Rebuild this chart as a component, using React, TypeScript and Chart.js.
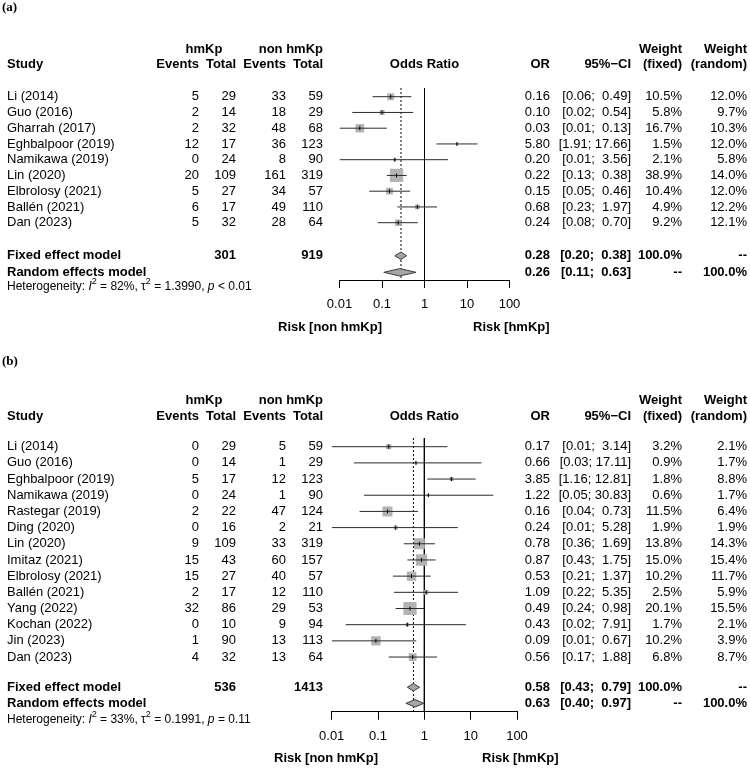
import { useEffect, useRef } from "react";
import { Chart, registerables } from "chart.js";

Chart.register(...registerables);

const FONT = '"Liberation Sans", Arial, Helvetica, sans-serif';
const SERIF = '"Liberation Serif", "Times New Roman", serif';

// ---------- Panel (a) data ----------
const studiesA = ["Li (2014)", "Guo (2016)", "Gharrah (2017)", "Eghbalpoor (2019)", "Namikawa (2019)", "Lin (2020)", "Elbrolosy (2021)", "Ballén (2021)", "Dan (2023)"];
const hmEventsA = [5, 2, 2, 12, 0, 20, 5, 6, 5];
const hmTotalA = [29, 14, 32, 17, 24, 109, 27, 17, 32];
const nonEventsA = [33, 18, 48, 36, 8, 161, 34, 49, 28];
const nonTotalA = [59, 29, 68, 123, 90, 319, 57, 110, 64];
const orA = [0.16, 0.10, 0.03, 5.80, 0.20, 0.22, 0.15, 0.68, 0.24];
const lowerA = [0.06, 0.02, 0.01, 1.91, 0.01, 0.13, 0.05, 0.23, 0.08];
const upperA = [0.49, 0.54, 0.13, 17.66, 3.56, 0.38, 0.46, 1.97, 0.70];
const wFixedA = [10.5, 5.8, 16.7, 1.5, 2.1, 38.9, 10.4, 4.9, 9.2];
const wRandomA = [12.0, 9.7, 10.3, 12.0, 5.8, 14.0, 12.0, 12.2, 12.1];
const totalsA = [301, 919];
const fixedA = [0.28, 0.20, 0.38];
const randomA = [0.26, 0.11, 0.63];
const hetA = ["82%", "1.3990", "< 0.01"];

// ---------- Panel (b) data ----------
const studiesB = ["Li (2014)", "Guo (2016)", "Eghbalpoor (2019)", "Namikawa (2019)", "Rastegar (2019)", "Ding (2020)", "Lin (2020)", "Imitaz (2021)", "Elbrolosy (2021)", "Ballén (2021)", "Yang (2022)", "Kochan (2022)", "Jin (2023)", "Dan (2023)"];
const hmEventsB = [0, 0, 5, 0, 2, 0, 9, 15, 15, 2, 32, 0, 1, 4];
const hmTotalB = [29, 14, 17, 24, 22, 16, 109, 43, 27, 17, 86, 10, 90, 32];
const nonEventsB = [5, 1, 12, 1, 47, 2, 33, 60, 40, 12, 29, 9, 13, 13];
const nonTotalB = [59, 29, 123, 90, 124, 21, 319, 157, 57, 110, 53, 94, 113, 64];
const orB = [0.17, 0.66, 3.85, 1.22, 0.16, 0.24, 0.78, 0.87, 0.53, 1.09, 0.49, 0.43, 0.09, 0.56];
const lowerB = [0.01, 0.03, 1.16, 0.05, 0.04, 0.01, 0.36, 0.43, 0.21, 0.22, 0.24, 0.02, 0.01, 0.17];
const upperB = [3.14, 17.11, 12.81, 30.83, 0.73, 5.28, 1.69, 1.75, 1.37, 5.35, 0.98, 7.91, 0.67, 1.88];
const wFixedB = [3.2, 0.9, 1.8, 0.6, 11.5, 1.9, 13.8, 15.0, 10.2, 2.5, 20.1, 1.7, 10.2, 6.8];
const wRandomB = [2.1, 1.7, 8.8, 1.7, 6.4, 1.9, 14.3, 15.4, 11.7, 5.9, 15.5, 2.1, 3.9, 8.7];
const totalsB = [536, 1413];
const fixedB = [0.58, 0.43, 0.79];
const randomB = [0.63, 0.40, 0.97];
const hetB = ["33%", "0.1991", "= 0.11"];

// ---------- axis ----------
const tickValues = [0.01, 0.1, 1, 10, 100];
const tickLabels = ["0.01", "0.1", "1", "10", "100"];

type PanelData = {
  tag: string;
  studies: string[];
  hmEvents: number[];
  hmTotal: number[];
  nonEvents: number[];
  nonTotal: number[];
  or: number[];
  lower: number[];
  upper: number[];
  wFixed: number[];
  wRandom: number[];
  totals: number[];
  fixed: number[];
  random: number[];
  het: string[];
};

type Layout = {
  canvasTop: number;
  height: number;
  xLeft: number;
  xRight: number;
  chartTop: number;
  axisY: number;
  row0: number;
  step: number;
  fixedRow: number;
  randomRow: number;
  hetRow: number;
  tagY: number;
  head1: number;
  head2: number;
  riskY: number;
  rightLabelX: number;
};

const panelA: PanelData = {
  tag: "(a)", studies: studiesA, hmEvents: hmEventsA, hmTotal: hmTotalA, nonEvents: nonEventsA, nonTotal: nonTotalA,
  or: orA, lower: lowerA, upper: upperA, wFixed: wFixedA, wRandom: wRandomA, totals: totalsA, fixed: fixedA, random: randomA, het: hetA,
};
const panelB: PanelData = {
  tag: "(b)", studies: studiesB, hmEvents: hmEventsB, hmTotal: hmTotalB, nonEvents: nonEventsB, nonTotal: nonTotalB,
  or: orB, lower: lowerB, upper: upperB, wFixed: wFixedB, wRandom: wRandomB, totals: totalsB, fixed: fixedB, random: randomB, het: hetB,
};

const layoutA: Layout = {
  canvasTop: 0, height: 345, xLeft: 339.5, xRight: 509.5, chartTop: 88, axisY: 280, row0: 96.7, step: 15.75,
  fixedRow: 10.1, randomRow: 11.15, hetRow: 12.08, tagY: 8, head1: 49.5, head2: 64.5, riskY: 327, rightLabelX: 473,
};
const layoutB: Layout = {
  canvasTop: 345, height: 425, xLeft: 331.7, xRight: 517, chartTop: 93, axisY: 366.7, row0: 101.7, step: 16.18,
  fixedRow: 14.87, randomRow: 15.86, hetRow: 16.89, tagY: 17, head1: 55, head2: 71.7, riskY: 413.3, rightLabelX: 482,
};

// column anchors (right-aligned unless noted)
const COL = { study: 7, ev1: 199, tot1: 236, hmCenter: 204, ev2: 286, tot2: 323, or: 550, ci: 631, wf: 682, wr: 747 };

const W = 750;
const MAX_BOX = 13.2;
const DIAMOND_HALF = 3.7;

function fmt2(v: number) {
  return v.toFixed(2);
}
function ciText(lo: number, hi: number) {
  const h = fmt2(hi);
  return "[" + fmt2(lo) + ";" + (h.length < 5 ? "  " : " ") + h + "]";
}
function pct(v: number) {
  return v.toFixed(1) + "%";
}

function makeConfig(P: PanelData, L: Layout): any {
  const yMin = (L.chartTop - L.row0) / L.step;
  const yMax = (L.axisY - L.row0) / L.step;
  const xAxisH = 40;
  const maxW = Math.max(...P.wFixed);
  const sides = P.wFixed.map((w) => MAX_BOX * Math.sqrt(w / maxW));
  const dh = DIAMOND_HALF / L.step;

  const datasets: any[] = [];
  // reference line at OR = 1
  datasets.push({
    type: "line", data: [{ x: 1, y: yMin }, { x: 1, y: yMax }], borderColor: "#000", borderWidth: 1,
    pointRadius: 0, order: 6, fill: false,
  });
  // fixed effect dotted line
  datasets.push({
    type: "line", data: [{ x: P.fixed[0], y: yMin }, { x: P.fixed[0], y: yMax }], borderColor: "#000", borderWidth: 1,
    borderDash: [2, 2], pointRadius: 0, order: 6, fill: false,
  });
  // squares
  datasets.push({
    type: "scatter", data: P.or.map((v, i) => ({ x: v, y: i })), pointStyle: "rect",
    pointRadius: sides.map((s) => s / Math.SQRT2), backgroundColor: "#b3b3b3", borderWidth: 0, order: 3,
  });
  // CI lines
  P.or.forEach((_, i) => {
    datasets.push({
      type: "line", data: [{ x: P.lower[i], y: i }, { x: P.upper[i], y: i }], borderColor: "#2a2a2a",
      borderWidth: 1, pointRadius: 0, order: 1, fill: false,
    });
  });
  // estimate ticks
  datasets.push({
    type: "scatter", data: P.or.map((v, i) => ({ x: v, y: i })), pointStyle: "line", rotation: 90,
    pointRadius: 2, borderColor: "#000", borderWidth: 1, order: 0,
  });
  // diamonds
  const dia = (s: number[], r: number) => [
    { x: s[1], y: r }, { x: s[0], y: r - dh }, { x: s[2], y: r }, { x: s[0], y: r + dh }, { x: s[1], y: r },
  ];
  datasets.push({
    type: "line", data: dia(P.fixed, L.fixedRow), fill: "shape", backgroundColor: "#a6a6a6", borderColor: "#3a3a3a",
    borderWidth: 1, pointRadius: 0, order: 2, tension: 0,
  });
  datasets.push({
    type: "line", data: dia(P.random, L.randomRow), fill: "shape", backgroundColor: "#a6a6a6", borderColor: "#3a3a3a",
    borderWidth: 1, pointRadius: 0, order: 2, tension: 0,
  });

  const textPlugin = {
    id: "forestText",
    afterDraw(chart: any) {
      const ctx = chart.ctx as CanvasRenderingContext2D;
      const ys = chart.scales.y;
      const xs = chart.scales.x;
      const ry = (r: number) => ys.getPixelForValue(r);
      ctx.save();
      ctx.fillStyle = "#000";
      ctx.textBaseline = "middle";
      const put = (s: string, px: number, py: number, align: CanvasTextAlign, bold = false, size = 13) => {
        ctx.font = `${bold ? "bold " : ""}${size}px ${FONT}`;
        ctx.textAlign = align;
        ctx.fillText(s, px, py);
      };
      // tag
      ctx.font = `bold 13px ${SERIF}`;
      ctx.textAlign = "left";
      ctx.fillText(P.tag, 2, L.tagY);
      // headers
      put("hmKp", COL.hmCenter, L.head1, "center", true);
      put("non hmKp", COL.tot2, L.head1, "right", true);
      put("Weight", COL.wf, L.head1, "right", true);
      put("Weight", COL.wr, L.head1, "right", true);
      put("Study", COL.study, L.head2, "left", true);
      put("Events", COL.ev1, L.head2, "right", true);
      put("Total", COL.tot1, L.head2, "right", true);
      put("Events", COL.ev2, L.head2, "right", true);
      put("Total", COL.tot2, L.head2, "right", true);
      put("Odds Ratio", xs.getPixelForValue(1), L.head2, "center", true);
      put("OR", COL.or, L.head2, "right", true);
      put("95%\u2212CI", COL.ci, L.head2, "right", true);
      put("(fixed)", COL.wf, L.head2, "right", true);
      put("(random)", COL.wr, L.head2, "right", true);
      // study rows
      P.studies.forEach((s, i) => {
        const y = ry(i);
        put(s, COL.study, y, "left");
        put(String(P.hmEvents[i]), COL.ev1, y, "right");
        put(String(P.hmTotal[i]), COL.tot1, y, "right");
        put(String(P.nonEvents[i]), COL.ev2, y, "right");
        put(String(P.nonTotal[i]), COL.tot2, y, "right");
        put(fmt2(P.or[i]), COL.or, y, "right");
        put(ciText(P.lower[i], P.upper[i]), COL.ci, y, "right");
        put(pct(P.wFixed[i]), COL.wf, y, "right");
        put(pct(P.wRandom[i]), COL.wr, y, "right");
      });
      // fixed
      let y = ry(L.fixedRow);
      put("Fixed effect model", COL.study, y, "left", true);
      put(String(P.totals[0]), COL.tot1, y, "right", true);
      put(String(P.totals[1]), COL.tot2, y, "right", true);
      put(fmt2(P.fixed[0]), COL.or, y, "right", true);
      put(ciText(P.fixed[1], P.fixed[2]), COL.ci, y, "right", true);
      put("100.0%", COL.wf, y, "right", true);
      put("--", COL.wr, y, "right", true);
      // random
      y = ry(L.randomRow);
      put("Random effects model", COL.study, y, "left", true);
      put(fmt2(P.random[0]), COL.or, y, "right", true);
      put(ciText(P.random[1], P.random[2]), COL.ci, y, "right", true);
      put("--", COL.wf, y, "right", true);
      put("100.0%", COL.wr, y, "right", true);
      // heterogeneity (rich text)
      y = ry(L.hetRow);
      const segs: { t: string; it?: boolean; sup?: boolean }[] = [
        { t: "Heterogeneity: " }, { t: "I", it: true }, { t: "2", sup: true }, { t: " = " + P.het[0] + ", " },
        { t: "\u03c4" }, { t: "2", sup: true }, { t: " = " + P.het[1] + ", " }, { t: "p", it: true }, { t: " " + P.het[2] },
      ];
      let cx = COL.study;
      ctx.textAlign = "left";
      segs.forEach((sg) => {
        const size = sg.sup ? 9 : 12;
        ctx.font = `${sg.it ? "italic " : ""}${size}px ${FONT}`;
        ctx.fillText(sg.t, cx, sg.sup ? y - 5 : y);
        cx += ctx.measureText(sg.t).width;
      });
      // risk labels
      put("Risk [non hmKp]", xs.getPixelForValue(0.1), L.riskY, "right", true);
      put("Risk [hmKp]", L.rightLabelX, L.riskY, "left", true);
      ctx.restore();
    },
  };

  return {
    type: "scatter",
    data: { datasets },
    plugins: [textPlugin],
    options: {
      responsive: false,
      animation: false,
      events: [],
      layout: {
        padding: { left: L.xLeft, right: W - L.xRight, top: L.chartTop, bottom: L.height - L.axisY - xAxisH },
      },
      plugins: { legend: { display: false }, tooltip: { enabled: false }, title: { display: false } },
      scales: {
        x: {
          type: "logarithmic",
          min: 0.01,
          max: 100,
          position: "bottom",
          afterBuildTicks: (s: any) => {
            s.ticks = tickValues.map((v) => ({ value: v }));
          },
          afterFit: (s: any) => {
            s.height = xAxisH;
          },
          ticks: {
            autoSkip: false,
            maxRotation: 0,
            minRotation: 0,
            padding: 9,
            color: "#000",
            font: { family: FONT, size: 13 },
            callback: (_v: any, i: number) => tickLabels[i],
          },
          grid: { display: true, drawOnChartArea: false, drawTicks: true, tickLength: 8, color: "#000", lineWidth: 1 },
          border: { display: true, color: "#000", width: 1 },
        },
        y: { type: "linear", min: yMin, max: yMax, reverse: true, display: false },
      },
    },
  };
}

function ForestPanel({ P, L }: { P: PanelData; L: Layout }) {
  const ref = useRef<HTMLCanvasElement | null>(null);
  useEffect(() => {
    if (!ref.current) return;
    const chart = new Chart(ref.current, makeConfig(P, L));
    return () => chart.destroy();
  }, [P, L]);
  return (
    <canvas
      ref={ref}
      width={W}
      height={L.height}
      style={{ position: "absolute", left: 0, top: L.canvasTop, width: W, height: L.height, display: "block" }}
    />
  );
}

export default function App() {
  return (
    <div style={{ position: "absolute", left: 0, top: 0, width: 750, height: 770, background: "#fff", overflow: "hidden" }}>
      <ForestPanel P={panelA} L={layoutA} />
      <ForestPanel P={panelB} L={layoutB} />
    </div>
  );
}
